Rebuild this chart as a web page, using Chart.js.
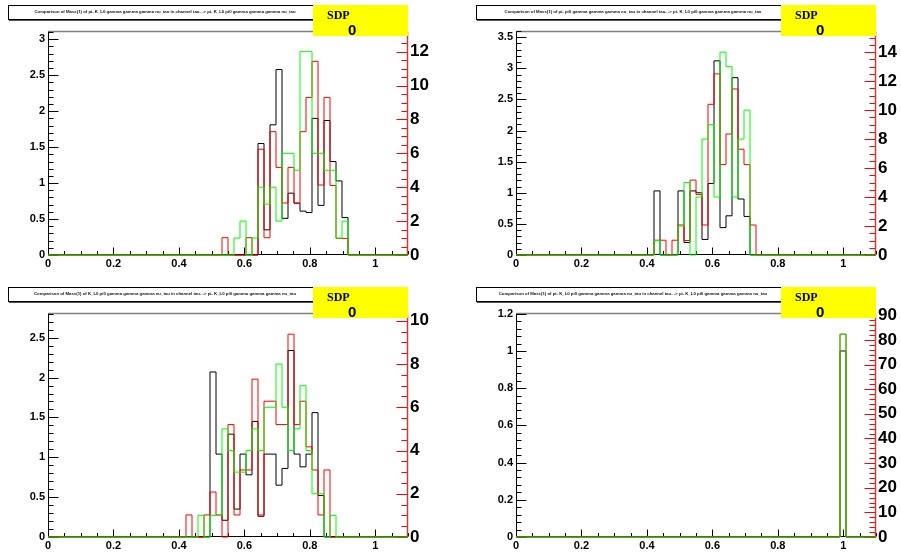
<!DOCTYPE html>
<html>
<head>
<meta charset="utf-8">
<script src="https://cdn.jsdelivr.net/npm/chart.js@4.4.1/dist/chart.umd.min.js"></script>
<style>
body { margin: 0; background: #fff; width: 901px; height: 553px; position: relative; overflow: hidden; font-family: "Liberation Sans", Arial, sans-serif; }
.pad { position: absolute; width: 450px; height: 276px; }
.pad canvas { position: absolute; left: 0; top: 0; }
.title { position: absolute; left: 8px; top: 5px; width: 312px; height: 13px; border: 1px solid #000; box-shadow: 1px 1px 0 #555; background: #fff; overflow: hidden; }
.title span { position: absolute; left: 0; top: 3px; width: 624px; text-align: center; font-size: 8.6px; font-weight: bold; transform: scale(0.5); transform-origin: 0 0; white-space: nowrap; color: #111; }
.sdp { position: absolute; left: 313px; top: 5px; width: 95px; height: 31px; background: #ffff00; }
.sdp .lab { position: absolute; left: 14px; top: 4px; font: bold 12px/12px "Liberation Serif", serif; }
.sdp .val { position: absolute; left: 35px; top: 17px; font: bold 15px/15px "Liberation Sans", sans-serif; }
</style>
</head>
<body>
<script>
// histogram binning (same for every pad)
const nBins = 60;
const xLow = 0, xHigh = 1.1;

const titles = [
    'Comparison of Mass(1) of pi- K_L0 gamma gamma gamma nu_tau in channel tau- -> pi- K_L0 pi0 gamma gamma gamma nu_tau',
    'Comparison of Mass(1) of pi- pi0 gamma gamma gamma nu_tau in channel tau- -> pi- K_L0 pi0 gamma gamma gamma nu_tau',
    'Comparison of Mass(1) of K_L0 pi0 gamma gamma gamma nu_tau in channel tau- -> pi- K_L0 pi0 gamma gamma gamma nu_tau',
    'Comparison of Mass(1) of pi- K_L0 pi0 gamma gamma gamma nu_tau in channel tau- -> pi- K_L0 pi0 gamma gamma gamma nu_tau'
];
const sdpValues = ['0', '0', '0', '0'];

// pad 1
const p1First = 29;
const p1Black = [0, 0, 0, 0, 0, 0, 1.55, 0.35, 1.81, 2.58, 0.51, 0.86, 0.72, 0.61, 0.59, 1.90, 0.69, 1.87, 1.30, 1.03, 0.52];
const p1Red = [1.02, 0, 0, 0, 1.02, 0, 6.24, 1.02, 7.28, 5.17, 3.07, 5.17, 3.07, 7.28, 9.3, 11.43, 4.13, 9.3, 4.1, 0.98, 0.98];
const p1Green = [0, 0, 1, 2, 0, 1, 4, 3, 4, 2, 6, 6, 5, 12, 12, 6, 6, 5, 5, 1, 2];

// pad 2
const p2First = 23;
const p2Black = [1.03, 0, 0, 0, 1.03, 0.20, 1.03, 1.0, 0.25, 1.15, 3.12, 0.44, 0.63, 2.85, 0.90, 0.62, 0, 0];
const p2Red = [1.02, 1.02, 0, 1.02, 2.07, 1.0, 5.17, 4.17, 2.07, 10.4, 12.5, 6.24, 8.35, 11.46, 7.3, 6.24, 2.07, 0];
const p2Green = [1, 0, 0, 0, 2, 5, 0, 4, 8, 9, 4, 14, 13, 4, 8, 10, 0, 0];

// pad 3
const p3First = 23;
const p3Black = [0, 0, 0, 0, 2.07, 1.04, 0.21, 1.29, 0.35, 1.04, 0.78, 1.45, 0.26, 1.04, 1.04, 0.65, 0.86, 2.34, 1.04, 0.88, 1.04, 1.56, 0.52, 0, 0];
const p3Red = [1.02, 0, 0, 1.02, 2.08, 1.02, 0, 5.2, 1.02, 3.1, 3.1, 7.3, 1.02, 6.28, 6.28, 5.2, 5.2, 9.38, 5.2, 6.28, 4.17, 3.1, 1.02, 3.1, 0];
const p3Green = [0, 0, 1, 0, 1, 1, 5, 4, 3, 3, 4, 5, 4, 6, 6, 8, 6, 4, 5, 7, 4, 2, 2, 0, 1];

// pad 4
const p4First = 54;
const p4Black = [1.0];
const p4Red = [82.3];
const p4Green = [82.3];

// axis ranges: [max, label step, minor step]
const leftAxes = [[3.115, 0.5, 0.1], [3.60, 0.5, 0.1], [2.81, 0.5, 0.1], [1.204, 0.2, 0.04]];
const rightAxes = [[13.22, 2, 0.5], [15.46, 2, 0.5], [10.36, 2, 0.5], [90.9, 10, 2]];
const padPos = [[0, 0], [468, 0], [0, 282], [468, 282]];

const pads = [
    [p1First, p1Black, p1Red, p1Green],
    [p2First, p2Black, p2Red, p2Green],
    [p3First, p3Black, p3Red, p3Green],
    [p4First, p4Black, p4Red, p4Green]
];

function fmt(v) {
    return String(Math.round(v * 1000) / 1000);
}

function histPoints(first, vals) {
    const w = (xHigh - xLow) / nBins;
    const pts = [];
    for (let i = 0; i < nBins; i++) {
        const k = i - first;
        pts.push({x: xLow + i * w, y: (k >= 0 && k < vals.length) ? vals[k] : 0});
    }
    pts.push({x: xHigh, y: 0});
    return pts;
}

// ROOT style frame: ticks drawn inside the frame
const rootFrame = {
    id: 'rootFrame',
    beforeDatasetsDraw(chart) {
        const ctx = chart.ctx, a = chart.chartArea;
        const sx = chart.scales.x, sy = chart.scales.y, sy2 = chart.scales.y2;
        const L = Math.round(a.left) + 0.5, R = Math.round(a.right) - 0.5;
        const T = Math.round(a.top) + 0.5, B = Math.round(a.bottom) - 0.5;
        function seg(x1, y1, x2, y2, col, lw) {
            ctx.strokeStyle = col;
            ctx.lineWidth = lw || 1;
            ctx.beginPath();
            ctx.moveTo(x1, y1);
            ctx.lineTo(x2, y2);
            ctx.stroke();
        }
        ctx.save();
        seg(L, T, R, T, '#808080', 1.5);
        seg(L, B, R, B, '#000');
        seg(L, T, L, B, '#000');
        // x ticks
        for (let k = 0; k * 0.05 <= xHigh + 1e-9; k++) {
            const px = Math.round(sx.getPixelForValue(k * 0.05)) + 0.5;
            seg(px, B, px, B - (k % 4 === 0 ? 7 : 3.5), '#000');
        }
        // left ticks
        const la = chart.options.plugins.rootFrame.left;
        const nl = Math.round(la[1] / la[2]);
        for (let k = 0; k * la[2] <= la[0] + 1e-9; k++) {
            const py = Math.round(sy.getPixelForValue(k * la[2])) + 0.5;
            seg(L, py, L + (k % nl === 0 ? 10 : 5), py, '#000');
        }
        // right ticks
        const ra = chart.options.plugins.rootFrame.right;
        const nr = Math.round(ra[1] / ra[2]);
        for (let k = 0; k * ra[2] <= ra[0] + 1e-9; k++) {
            const py = Math.round(sy2.getPixelForValue(k * ra[2])) + 0.5;
            seg(R, py, R - (k % nr === 0 ? 11 : 6), py, '#ff0000');
        }
        seg(R, T, R, B, '#c83c3c', 1.5);
        ctx.restore();
    }
};

Chart.defaults.font.family = '"Liberation Sans", Arial, sans-serif';

pads.forEach(function (p, n) {
    const div = document.createElement('div');
    div.className = 'pad';
    div.style.left = padPos[n][0] + 'px';
    div.style.top = padPos[n][1] + 'px';
    const cv = document.createElement('canvas');
    cv.width = 450;
    cv.height = 276;
    div.appendChild(cv);
    const t = document.createElement('div');
    t.className = 'title';
    const ts = document.createElement('span');
    ts.textContent = titles[n];
    t.appendChild(ts);
    div.appendChild(t);
    const s = document.createElement('div');
    s.className = 'sdp';
    s.innerHTML = '<span class="lab">SDP</span><span class="val">' + sdpValues[n] + '</span>';
    div.appendChild(s);
    document.body.appendChild(div);

    const la = leftAxes[n], ra = rightAxes[n];
    const common = {pointRadius: 0, borderWidth: 1, fill: false, stepped: 'before', clip: 3};
    new Chart(cv, {
        type: 'line',
        data: {
            datasets: [
                Object.assign({label: 'ref', data: histPoints(p[0], p[1]), borderColor: '#000000', yAxisID: 'y', order: 2}, common),
                Object.assign({label: 'red', data: histPoints(p[0], p[2]), borderColor: '#ff0000', yAxisID: 'y2', order: 1}, common),
                Object.assign({label: 'green', data: histPoints(p[0], p[3]), borderColor: '#00ff00', yAxisID: 'y2', order: 0}, common)
            ]
        },
        options: {
            responsive: false,
            animation: false,
            layout: {padding: {top: 31, left: 0, right: 0, bottom: 0}},
            plugins: {
                legend: {display: false},
                tooltip: {enabled: false},
                rootFrame: {left: la, right: ra}
            },
            scales: {
                x: {
                    type: 'linear', min: xLow, max: xHigh,
                    grid: {display: false, drawTicks: false},
                    border: {display: false},
                    ticks: {stepSize: 0.2, includeBounds: false, autoSkip: false, maxRotation: 0, padding: 2, color: '#000',
                        font: {size: 11, weight: 'bold'}, callback: fmt},
                    afterFit: function (sc) { sc.height = 21; }
                },
                y: {
                    position: 'left', min: 0, max: la[0],
                    grid: {display: false, drawTicks: false},
                    border: {display: false},
                    ticks: {stepSize: la[1], includeBounds: false, autoSkip: false, padding: 3, color: '#000',
                        font: {size: 11, weight: 'bold'}, callback: fmt},
                    afterFit: function (sc) { sc.width = 48; }
                },
                y2: {
                    position: 'right', min: 0, max: ra[0],
                    grid: {display: false, drawTicks: false},
                    border: {display: false},
                    ticks: {stepSize: ra[1], includeBounds: false, autoSkip: false, padding: 2, color: '#000',
                        font: {size: 17, weight: 'bold'}, callback: fmt},
                    afterFit: function (sc) { sc.width = 42; }
                }
            }
        },
        plugins: [rootFrame]
    });
});
</script>
</body>
</html>
